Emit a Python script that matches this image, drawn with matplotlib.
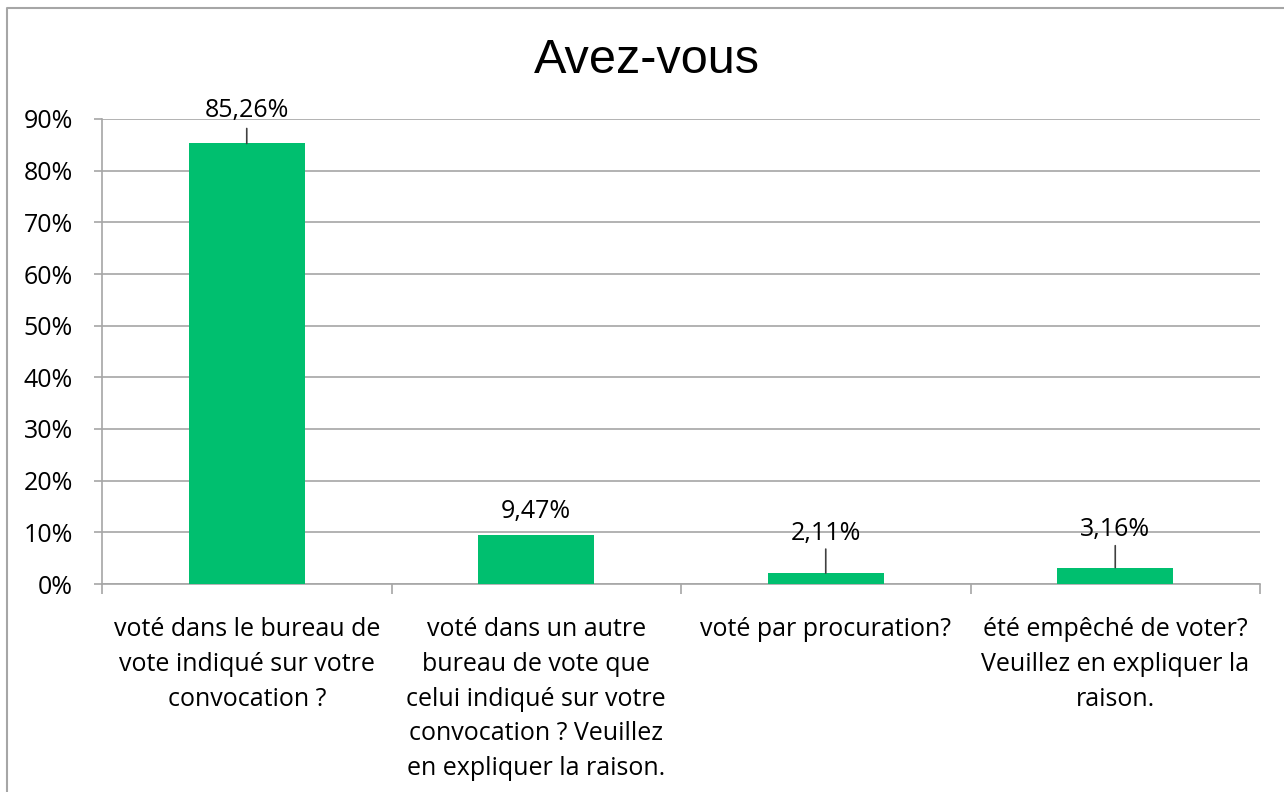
import numpy as np
import matplotlib
matplotlib.use("Agg")
import matplotlib.pyplot as plt
from matplotlib.lines import Line2D

# Données du graphique
categories = [
    "voté dans le bureau de\nvote indiqué sur votre\nconvocation ?",
    "voté dans un autre\nbureau de vote que\ncelui indiqué sur votre\nconvocation ? Veuillez\nen expliquer la raison.",
    "voté par procuration?",
    "été empêché de voter?\nVeuillez en expliquer la\nraison.",
]
valeurs = [85.26, 9.47, 2.11, 3.16]
yticks = [0, 10, 20, 30, 40, 50, 60, 70, 80, 90]

# décalage des étiquettes (pixels) et longueur des traits de rappel
decalage_etiquette = [26, 17, 33, 32]
trait_rappel = [15, 0, 24, 22]

vert = "#00BF6F"
gris = "#A6A6A6"
taille = 18

plt.rcParams["font.family"] = ["Open Sans", "DejaVu Sans"]

fig = plt.figure(figsize=(12.84, 7.92), dpi=100)
ax = fig.add_axes([102 / 1284, 1 - 584 / 792, (1260 - 102) / 1284, (584 - 119) / 792])

x = np.arange(len(categories))
ax.bar(x, valeurs, width=0.4, color=vert, zorder=3)

ax.set_xlim(-0.5, len(categories) - 0.5)
ax.set_ylim(0, 90)
ax.set_yticks(yticks)
ax.set_yticklabels([f"{v}%" for v in yticks])
ax.set_xticks(x)
ax.set_xticklabels(categories, fontsize=taille, linespacing=1.51)
ax.set_xticks(np.arange(len(categories) + 1) - 0.5, minor=True)

ax.tick_params(axis="y", labelsize=taille, length=6, width=1.2, color=gris, pad=15)
ax.tick_params(axis="x", which="major", length=0, pad=24)
ax.tick_params(axis="x", which="minor", length=7, width=1.2, color=gris)

ax.grid(axis="y", color=gris, linewidth=1.2, zorder=0)
ax.set_axisbelow(True)
for s in ["top", "right"]:
    ax.spines[s].set_visible(False)
for s in ["left", "bottom"]:
    ax.spines[s].set_color(gris)
    ax.spines[s].set_linewidth(1.2)

# Étiquettes de données
for i, v in enumerate(valeurs):
    txt = f"{v:.2f}%".replace(".", ",")
    ax.annotate(txt, xy=(i, v), xytext=(0, decalage_etiquette[i]),
                textcoords="offset pixels", ha="center", va="baseline",
                fontsize=taille, zorder=5)
    if trait_rappel[i] > 0:
        ax.annotate("", xy=(i, v), xytext=(0, trait_rappel[i]),
                    textcoords="offset pixels",
                    arrowprops=dict(arrowstyle="-", color="#404040", lw=1.2,
                                    shrinkA=0, shrinkB=0))

fig.text(647 / 1284, 1 - 73 / 792, "Avez-vous", ha="center", va="baseline",
         fontsize=35, family=["Liberation Sans", "DejaVu Sans"])

# cadre du graphique
fig.add_artist(Line2D([7 / 1284, 7 / 1284, 1], [0, 1 - 8 / 792, 1 - 8 / 792],
                      color=gris, linewidth=1.5, transform=fig.transFigure))

fig.savefig("out.png", dpi=100)
